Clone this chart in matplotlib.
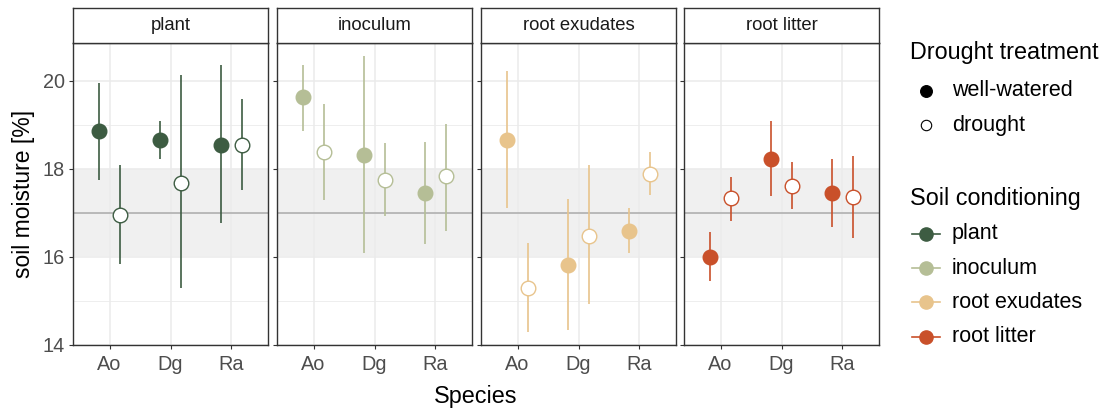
import matplotlib.pyplot as plt
from matplotlib.lines import Line2D
import numpy as np

plt.rcParams['font.family'] = ['Liberation Sans', 'DejaVu Sans']

# valeurs
conditioning = ['plant', 'inoculum', 'root exudates', 'root litter']
species = ['Ao', 'Dg', 'Ra']
colors = ['#3d5c42', '#b5be96', '#e8c48c', '#c9502a']

# moyennes, bornes basses et hautes (well-watered / drought), par species
ww_mean = [[18.86, 18.66, 18.55], [19.63, 18.32, 17.46], [18.66, 15.81, 16.59], [15.99, 18.23, 17.45]]
ww_low = [[17.75, 18.23, 16.76], [18.87, 16.09, 16.29], [17.12, 14.33, 16.09], [15.45, 17.39, 16.69]]
ww_high = [[19.96, 19.09, 20.36], [20.36, 20.56, 18.61], [20.22, 17.31, 17.12], [16.56, 19.09, 18.23]]
dr_mean = [[16.96, 17.69, 18.55], [18.39, 17.75, 17.83], [15.29, 16.48, 17.88], [17.33, 17.62, 17.36]]
dr_low = [[15.83, 15.29, 17.52], [17.29, 16.93, 16.59], [14.29, 14.92, 17.40], [16.82, 17.09, 16.42]]
dr_high = [[18.08, 20.13, 19.58], [19.48, 18.58, 19.01], [16.32, 18.09, 18.38], [17.82, 18.16, 18.29]]

treatments = ['well-watered', 'drought']
band_low, band_high, ref_line = 16.05, 18.0, 17.0

W, H = 1103, 408
fig = plt.figure(figsize=(W / 100, H / 100), dpi=100)

lefts = [73, 277, 481, 684]
pw = 195
top, bottom = 43, 345
strip_top = 8
x = np.arange(len(species))
dodge = 0.175

for i, cond in enumerate(conditioning):
    ax = fig.add_axes([lefts[i] / W, 1 - bottom / H, pw / W, (bottom - top) / H])
    ax.set_xlim(-0.6, 2.6)
    ax.set_ylim(14, 20.86)
    ax.axhspan(band_low, band_high, color='#f0f0f0', zorder=0)
    for yy in [14, 16, 18, 20]:
        ax.axhline(yy, color='#ebebeb', lw=1.1, zorder=0.5)
    for yy in [15, 17, 19]:
        ax.axhline(yy, color='#ebebeb', lw=0.6, zorder=0.5)
    for xx in x:
        ax.axvline(xx, color='#ebebeb', lw=1.1, zorder=0.5)
    ax.axhline(ref_line, color='#aaaaaa', lw=1.1, zorder=1)
    c = colors[i]
    ax.vlines(x - dodge, ww_low[i], ww_high[i], color=c, lw=1.2, zorder=2)
    ax.vlines(x + dodge, dr_low[i], dr_high[i], color=c, lw=1.2, zorder=2)
    ax.plot(x - dodge, ww_mean[i], 'o', ms=10.5, mfc=c, mec=c, mew=1, ls='none', zorder=3)
    ax.plot(x + dodge, dr_mean[i], 'o', ms=10.5, mfc='white', mec=c, mew=1, ls='none', zorder=3)
    ax.set_xticks(x)
    ax.set_xticklabels(species, fontsize=14.3, color='#4d4d4d')
    ax.set_yticks([14, 16, 18, 20])
    if i == 0:
        ax.set_yticklabels(['14', '16', '18', '20'], fontsize=14.3, color='#4d4d4d')
        ax.set_ylabel('soil moisture [%]', fontsize=16.5)
        ax.yaxis.set_label_coords(-0.195, 0.5)
    else:
        ax.set_yticklabels([])
    ax.tick_params(axis='x', length=3, width=0.8, color='#333333', pad=4)
    ax.tick_params(axis='y', length=3, width=0.8, color='#333333', pad=3)
    for s in ax.spines.values():
        s.set_color('#333333')
        s.set_linewidth(1)
    # bandeau du facet
    sax = fig.add_axes([lefts[i] / W, 1 - top / H, pw / W, (top - strip_top) / H])
    sax.set_xticks([])
    sax.set_yticks([])
    for s in sax.spines.values():
        s.set_color('#333333')
        s.set_linewidth(1)
    sax.text(0.5, 0.5, cond, ha='center', va='center', fontsize=13.3, color='#1a1a1a')

fig.text((lefts[0] + lefts[-1] + pw) / 2 / W, 1 - 396 / H, 'Species', ha='center', va='center', fontsize=16.8)

# légendes dessinées à la main (coordonnées en pixels)
lax = fig.add_axes([0, 0, 1, 1])
lax.set_xlim(0, W)
lax.set_ylim(H, 0)
lax.axis('off')
lax.text(910, 52, 'Drought treatment', fontsize=16.8, ha='left', va='center')
for j, (lab, fc) in enumerate(zip(treatments, ['black', 'white'])):
    yy = 91 + j * 34
    lax.add_line(Line2D([926], [yy], marker='o', ms=8.5 if j == 0 else 7.5, mfc=fc, mec='black', mew=0.8, ls='none'))
    lax.text(952, yy, lab, fontsize=15.5, ha='left', va='center')
lax.text(910, 198, 'Soil conditioning', fontsize=16.8, ha='left', va='center')
for j, (lab, c) in enumerate(zip(conditioning, colors)):
    yy = 234 + j * 34.2
    lax.add_line(Line2D([912, 940], [yy, yy], color=c, lw=1.2))
    lax.add_line(Line2D([926], [yy], marker='o', ms=9.5, mfc=c, mec=c, ls='none'))
    lax.text(952, yy, lab, fontsize=15.5, ha='left', va='center')

fig.savefig('out.png', dpi=100)
